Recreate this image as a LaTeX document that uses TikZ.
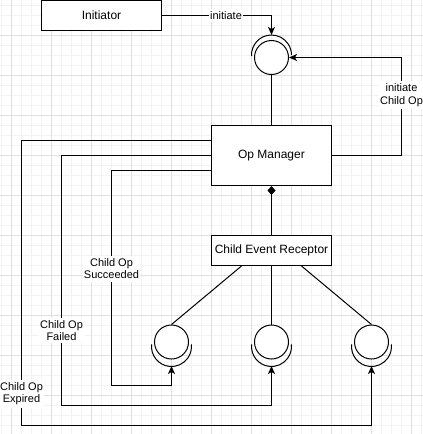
\documentclass[tikz,border=0pt]{standalone}
\usepackage{fontspec}
\setmainfont{Liberation Sans}
\usetikzlibrary{calc}
\usetikzlibrary{arrows.meta}
\tikzset{>=latex}
\definecolor{gridminor}{HTML}{F3F3F3}
\definecolor{gridmajor}{HTML}{E0E0E0}
\tikzset{box/.style={draw,fill=white,inner sep=0pt,minimum width=120pt,minimum height=30pt,font=\fontsize{12}{14}\selectfont}}
\tikzset{iface/.style={circle,draw,fill=white,inner sep=0pt,minimum size=34pt}}
\tikzset{lbl/.style={fill=white,inner xsep=1pt,inner ysep=2.5pt,align=center,font=\fontsize{11}{12.7}\selectfont}}
\tikzset{arr/.style={-{Stealth[length=8pt,width=7pt,inset=2pt]}}}

\begin{document}
\begin{tikzpicture}[x=1pt,y=-1pt,line width=1pt]
                    \useasboundingbox (0,0) rectangle (423,434);
                    % background grid
                    \foreach \x in {1.5,11.5,...,421.5} \draw[gridminor] (\x,0) -- (\x,434);
                    \foreach \y in {5.5,15.5,...,425.5} \draw[gridminor] (0,\y) -- (423,\y);
                    \foreach \x in {11.5,51.5,...,411.5} \draw[gridmajor] (\x,0) -- (\x,434);
                    \foreach \y in {35.5,75.5,...,395.5} \draw[gridmajor] (0,\y) -- (423,\y);

                    \node[box] (init) at (101.5,15.5) {Initiator};
                    \node[box,minimum height=60pt] (opm) at (271.5,155.5) {Op Manager};
                    \node[box] (cer) at (271.5,250.5) {Child Event Receptor};

                    \node[iface] (top) at (271.5,57.5) {};
                    \node[iface] (c1) at (171.5,342) {};
                    \node[iface] (c2) at (271.5,342) {};
                    \node[iface] (c3) at (371.5,342) {};

                    \coordinate (topcup) at ($(top)+(0,-22.5)$);
                    \coordinate (cup1) at ($(c1)+(0,24)$);
                    \coordinate (cup2) at ($(c2)+(0,24)$);
                    \coordinate (cup3) at ($(c3)+(0,24)$);

                    % sockets
                    \draw ($(top)+(-19.97,-1.45)$) arc[start angle=177,end angle=360,radius=20];
                    \draw ($(c1)+(-19.9,2.4)$) arc[start angle=186,end angle=-6,radius=20];
                    \draw ($(c2)+(-19.9,2.4)$) arc[start angle=186,end angle=-6,radius=20];
                    \draw ($(c3)+(-19.9,2.4)$) arc[start angle=186,end angle=-6,radius=20];

                    \draw[arr] (init.east) -| (topcup);
                    \draw[arr] (opm.east) -| (401.5,57.5) -- (top.east);
                    \draw (top) -- (opm);
                    \draw[{Diamond[length=9pt,width=8pt]}-] (opm) -- (cer);

                    \draw ($(cer.south)+(-30,0)$) -- (c1.north);
                    \draw (cer.south) -- (c2.north);
                    \draw ($(cer.south)+(30,0)$) -- (c3.north);

                    \draw[arr] ($(opm.west)+(0,15)$) -| (111.5,385.5) -| (cup1);
                    \draw[arr] (opm.west) -| (61.5,405.5) -| (cup2);
                    \draw[arr] ($(opm.west)+(0,-15)$) -| (21.5,425.5) -| (cup3);

                    \node[lbl] (linit) at (226,15.5) {initiate};
                    \node[lbl] (lchild) at (401.5,95.3) {initiate\\Child Op};
                    \node[lbl] (lsucc) at (111.5,268.7) {Child Op\\Succeeded};
                    \node[lbl] (lfail) at (61.5,330.5) {Child Op\\Failed};
                    \node[lbl] (lexp) at (21.5,393.7) {Child Op\\Expired};
                \end{tikzpicture}
\end{document}
